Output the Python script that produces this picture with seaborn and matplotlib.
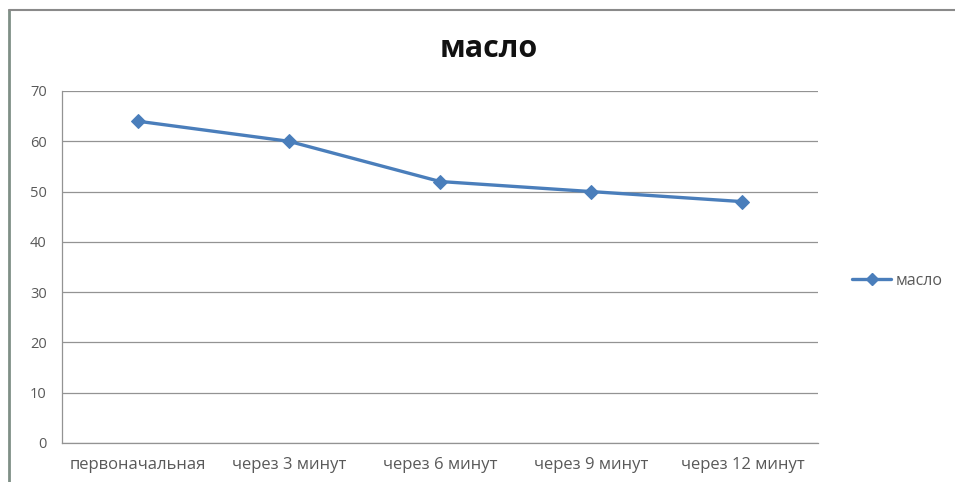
import matplotlib
matplotlib.use("Agg")
import matplotlib.pyplot as plt
from matplotlib.lines import Line2D
import seaborn as sns
import pandas as pd

categories = ["первоначальная", "через 3 минут", "через 6 минут", "через 9 минут", "через 12 минут"]
values = [64, 60, 52, 50, 48]
series_name = "масло"
y_ticks = [0, 10, 20, 30, 40, 50, 60, 70]

df = pd.DataFrame({"category": categories, "value": values})

sns.set_theme(style="white")
plt.rcParams["font.family"] = ["Open Sans", "DejaVu Sans"]

fig = plt.figure(figsize=(9.55, 4.82), dpi=100)
ax = fig.add_axes([62 / 955, 1 - 443 / 482, (818 - 62) / 955, (443 - 91) / 482])

line_color = "#4A7EBB"
grid_color = "#939393"
text_color = "#595959"

sns.lineplot(data=df, x="category", y="value", ax=ax, color=line_color,
             linewidth=2.4, marker="D", markersize=7.5, markeredgecolor=line_color,
             sort=False, label=series_name, legend=False)

ax.set_xlim(-0.5, len(categories) - 0.5)
ax.set_ylim(0, 70)
ax.set_yticks(y_ticks)
ax.yaxis.grid(True, color=grid_color, linewidth=0.9)
ax.set_axisbelow(True)

# category labels sit between boundary tick marks
ax.set_xticks([i - 0.5 for i in range(len(categories) + 1)])
ax.set_xticklabels([])
ax.set_xticks(range(len(categories)), minor=True)
ax.set_xticklabels(categories, minor=True)
ax.tick_params(axis="x", which="major", length=5, color=grid_color, direction="out", width=0.9)
ax.tick_params(axis="x", which="minor", length=0, pad=10, labelsize=12, labelcolor=text_color)
ax.tick_params(axis="y", length=5, color=grid_color, direction="out", width=0.9,
               labelsize=10.5, labelcolor=text_color, pad=6)
ax.set_xlabel("")
ax.set_ylabel("")

for side in ["top", "right"]:
    ax.spines[side].set_visible(False)
for side in ["left", "bottom"]:
    ax.spines[side].set_color(grid_color)
    ax.spines[side].set_linewidth(0.9)

fig.text(489 / 955, 1 - 49 / 482, series_name, ha="center", va="center",
         fontsize=22, fontweight="bold", color="#111111")

handle = Line2D([], [], color=line_color, linewidth=2.4, marker="D", markersize=6)
fig.legend([handle], [series_name], loc="center left",
           bbox_to_anchor=(838 / 955, 1 - 281 / 482), frameon=False,
           fontsize=11.5, labelcolor=text_color, handlelength=2.4, handletextpad=0.3)

# chart frame
fig.add_artist(Line2D([9 / 955, 9 / 955], [0, 1 - 10 / 482], transform=fig.transFigure,
                      color="#7F8F86", linewidth=2))
fig.add_artist(Line2D([9 / 955, 1], [1 - 10 / 482, 1 - 10 / 482], transform=fig.transFigure,
                      color="#8A8A8A", linewidth=1.5))

fig.savefig("out.png", dpi=100)
